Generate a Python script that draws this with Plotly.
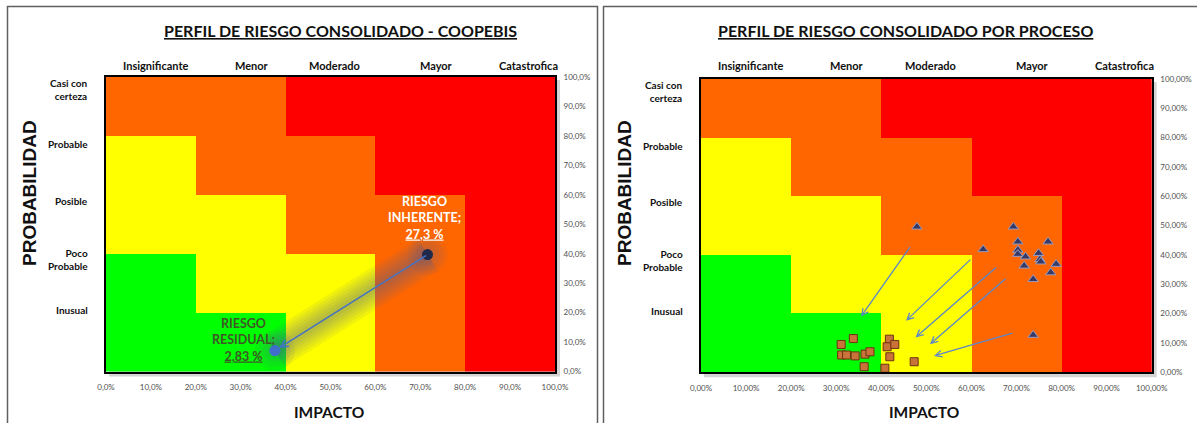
import plotly.graph_objects as go

# ---------------- data ----------------
IMPACT_LEVELS = ["Insignificante", "Menor", "Moderado", "Mayor", "Catastrofica"]
PROB_LEVELS = ["Casi con<br>certeza", "Probable", "Posible", "Poco<br>Probable", "Inusual"]
CELL_CENTERS = [10, 30, 50, 70, 90]
# risk zone per cell (rows bottom->top): 1 low, 2 moderate, 3 high, 4 extreme
RISK_ZONES = [
    [1, 1, 2, 3, 4],
    [1, 2, 2, 3, 4],
    [2, 2, 3, 3, 4],
    [2, 3, 3, 4, 4],
    [3, 3, 4, 4, 4],
]
TICK_VALUES = [0, 10, 20, 30, 40, 50, 60, 70, 80, 90, 100]
TICK_LABELS_1 = ["0,0%", "10,0%", "20,0%", "30,0%", "40,0%", "50,0%",
                 "60,0%", "70,0%", "80,0%", "90,0%", "100,0%"]
TICK_LABELS_2 = ["0,00%", "10,00%", "20,00%", "30,00%", "40,00%", "50,00%",
                 "60,00%", "70,00%", "80,00%", "90,00%", "100,00%"]

TITLE_1 = "PERFIL DE RIESGO CONSOLIDADO - COOPEBIS"
TITLE_2 = "PERFIL DE RIESGO CONSOLIDADO POR PROCESO"
X_TITLE = "IMPACTO"
Y_TITLE = "PROBABILIDAD"

# consolidated (left)
INH_IMPACT, INH_PROB, INH_VALUE = 71.6, 39.7, "27,3 %"
RES_IMPACT, RES_PROB, RES_VALUE = 37.6, 7.1, "2,83 %"

# by process (right): inherent risk (triangles)
PROC_INH_IMPACT = [47.9, 69.3, 62.6, 70.3, 70.3, 70.3, 72.0, 71.7, 77.0, 74.9, 75.2, 75.4, 78.8, 77.6, 73.7, 73.7]
PROC_INH_PROB = [49.6, 49.6, 41.9, 44.5, 41.7, 40.3, 39.4, 36.3, 44.5, 40.6, 38.5, 37.7, 36.9, 34.0, 31.7, 12.7]
# residual risk (squares)
PROC_RES_IMPACT = [31.1, 33.8, 31.2, 32.3, 34.2, 36.4, 37.5, 36.2, 41.8, 41.3, 43.0, 41.9, 40.8, 47.3]
PROC_RES_PROB = [9.5, 11.5, 5.9, 5.9, 5.6, 6.2, 7.0, 1.9, 11.3, 8.7, 9.5, 5.3, 1.4, 3.6]
# movement arrows
ARROW_FROM_IMPACT = [46.6, 60.1, 65.8, 67.9, 69.4]
ARROW_FROM_PROB = [43.2, 38.9, 36.2, 32.3, 13.5]
ARROW_TO_IMPACT = [35.5, 45.5, 47.6, 50.8, 51.7]
ARROW_TO_PROB = [19.0, 17.6, 11.9, 9.6, 5.6]

# ---------------- layout helpers ----------------
W, H = 1197, 423
LATO = "Lato, Open Sans, sans-serif"
ARIAL = "Liberation Sans, Arial, sans-serif"


def fx(px):
    return px / W


def fy(py):
    return 1 - py / H


LEFT_BOX = (106, 77, 555, 371.5)
RIGHT_BOX = (701, 79, 1151.7, 372.3)
COL_LABEL_X = [11, 32.5, 51, 73.5, 94]
ROW_LABEL_Y = [95.9, 77.2, 57.9, 38.0, 20.9]

COLORSCALE = [[0, "#00FF00"], [0.25, "#00FF00"], [0.25, "#FFFF00"], [0.5, "#FFFF00"],
              [0.5, "#FF6600"], [0.75, "#FF6600"], [0.75, "#FF0000"], [1, "#FF0000"]]

fig = go.Figure()

for xa, ya in [("x", "y"), ("x2", "y2")]:
    fig.add_trace(go.Heatmap(x=CELL_CENTERS, y=CELL_CENTERS, z=RISK_ZONES,
                             colorscale=COLORSCALE, zmin=0.5, zmax=4.5,
                             showscale=False, hoverinfo="skip",
                             xaxis=xa, yaxis=ya))

# soft glow along the movement (left)
for w in [38, 32, 26, 20, 14, 8]:
    fig.add_trace(go.Scatter(x=[INH_IMPACT, RES_IMPACT], y=[INH_PROB, RES_PROB],
                             mode="lines", line=dict(color="rgba(80,88,150,0.08)", width=w),
                             hoverinfo="skip", showlegend=False, xaxis="x", yaxis="y"))
for s in [40, 32, 24, 16]:
    fig.add_trace(go.Scatter(x=[INH_IMPACT, RES_IMPACT], y=[INH_PROB, RES_PROB],
                             mode="markers", marker=dict(color="rgba(80,88,150,0.08)", size=s),
                             hoverinfo="skip", showlegend=False, xaxis="x", yaxis="y"))

fig.add_trace(go.Scatter(x=[INH_IMPACT], y=[INH_PROB], mode="markers",
                         marker=dict(color="#1F2A4A", size=11), showlegend=False,
                         xaxis="x", yaxis="y"))
fig.add_trace(go.Scatter(x=[RES_IMPACT], y=[RES_PROB], mode="markers",
                         marker=dict(color="#3F6FCB", size=11), showlegend=False,
                         xaxis="x", yaxis="y"))

# right: process points
fig.add_trace(go.Scatter(x=PROC_INH_IMPACT, y=PROC_INH_PROB, mode="markers",
                         marker=dict(symbol="triangle-up", color="#363A66", size=9,
                                     line=dict(color="#9A9CC0", width=1)),
                         showlegend=False, xaxis="x2", yaxis="y2"))
fig.add_trace(go.Scatter(x=PROC_RES_IMPACT, y=PROC_RES_PROB, mode="markers",
                         marker=dict(symbol="square", color="#C9733A", size=8,
                                     line=dict(color="#6B3410", width=1)),
                         showlegend=False, xaxis="x2", yaxis="y2"))


def axis_x(box, ticktext, anchor):
    return dict(domain=[fx(box[0]), fx(box[2])], range=[0, 100], anchor=anchor,
                tickvals=TICK_VALUES, ticktext=ticktext, automargin=False,
                ticklabelstandoff=7,
                tickfont=dict(family=LATO, size=8, color="#505050"),
                showgrid=False, zeroline=False, showline=True, mirror=True,
                linecolor="black", linewidth=2, ticks="", fixedrange=True)


def axis_y(box, ticktext, anchor):
    return dict(domain=[fy(box[3]), fy(box[1])], range=[0, 100], anchor=anchor,
                side="right", tickvals=TICK_VALUES, ticktext=ticktext, automargin=False,
                ticklabelstandoff=5,
                tickfont=dict(family=LATO, size=8, color="#505050"),
                showgrid=False, zeroline=False, showline=True, mirror=True,
                linecolor="black", linewidth=2, ticks="", fixedrange=True)


annotations = []
shapes = []

panels = [
    (LEFT_BOX, "x", "y", TITLE_1, 340),
    (RIGHT_BOX, "x2", "y2", TITLE_2, 905),
]
for box, xa, ya, title, tcx in panels:
    annotations.append(dict(text="<b><u>" + title + "</u></b>", x=fx(tcx), y=fy(31),
                            xref="paper", yref="paper", xanchor="center", yanchor="middle",
                            showarrow=False,
                            font=dict(family=LATO, size=16, color="#111111")))
    for lab, cx in zip(IMPACT_LEVELS, COL_LABEL_X):
        annotations.append(dict(text="<b>" + lab + "</b>", x=cx, y=fy(65), xref=xa, yref="paper",
                                xanchor="center", yanchor="middle",
                                showarrow=False, font=dict(family=LATO, size=11, color="#111111")))
    for lab, cy in zip(PROB_LEVELS, ROW_LABEL_Y):
        annotations.append(dict(text="<b>" + lab + "</b>", x=fx(box[0] - 16), y=cy,
                                xref="paper", yref=ya, xanchor="right", yanchor="middle",
                                align="right",
                                showarrow=False, font=dict(family=LATO, size=10, color="#111111")))
    cx = (box[0] + box[2]) / 2
    annotations.append(dict(text="<b>" + X_TITLE + "</b>", x=fx(cx - 2), y=fy(411.5),
                            xref="paper", yref="paper", xanchor="center", yanchor="middle",
                            showarrow=False,
                            font=dict(family=LATO, size=15.5, color="#111111")))
    annotations.append(dict(text="<b>" + Y_TITLE + "</b>", x=fx(box[0] - 77), y=fy(193),
                            xref="paper", yref="paper", xanchor="center", yanchor="middle",
                            showarrow=False, textangle=-90,
                            font=dict(family=ARIAL, size=19, color="#111111")))
    # drop shadow behind plot area
    shapes.append(dict(type="rect", xref="paper", yref="paper", layer="below",
                       x0=fx(box[0] + 3), x1=fx(box[2] + 5), y0=fy(box[3] + 5), y1=fy(box[1] + 3),
                       fillcolor="#d4d4d4", line=dict(width=0)))

# panel frames
shapes.append(dict(type="rect", xref="paper", yref="paper", x0=fx(7.5), x1=fx(597.5),
                   y0=fy(432), y1=fy(6.5), line=dict(color="#606060", width=1.5)))
shapes.append(dict(type="rect", xref="paper", yref="paper", x0=fx(603.5), x1=fx(1205),
                   y0=fy(432), y1=fy(6.5), line=dict(color="#606060", width=1.5)))

# left labels and movement arrow
annotations.append(dict(text="<b>RIESGO<br>INHERENTE;<br><u>" + INH_VALUE + "</u></b>",
                        x=71.0, y=52.2, xref="x", yref="y", showarrow=False,
                        xanchor="center", yanchor="middle",
                        font=dict(family=LATO, size=12.5, color="white")))
annotations.append(dict(text="<b>RIESGO<br>RESIDUAL;<br><u>" + RES_VALUE + "</u></b>",
                        x=30.7, y=10.7, xref="x", yref="y", showarrow=False,
                        xanchor="center", yanchor="middle",
                        font=dict(family=LATO, size=12.5, color="#3F5727")))
annotations.append(dict(x=RES_IMPACT, y=RES_PROB, ax=INH_IMPACT, ay=INH_PROB,
                        xref="x", yref="y", axref="x", ayref="y", text="",
                        showarrow=True, arrowhead=5, arrowsize=1, arrowwidth=1.5,
                        arrowcolor="#4472C4", standoff=5))

for x0, y0, x1, y1 in zip(ARROW_FROM_IMPACT, ARROW_FROM_PROB, ARROW_TO_IMPACT, ARROW_TO_PROB):
    annotations.append(dict(x=x1, y=y1, ax=x0, ay=y0, xref="x2", yref="y2",
                            axref="x2", ayref="y2", text="", showarrow=True,
                            arrowhead=5, arrowsize=1, arrowwidth=1.3,
                            arrowcolor="#5B86C8", standoff=0))

fig.update_layout(
    template="none",
    width=W, height=H, autosize=False,
    margin=dict(l=0, r=0, t=0, b=0, pad=0),
    paper_bgcolor="white", plot_bgcolor="white",
    showlegend=False,
    xaxis=axis_x(LEFT_BOX, TICK_LABELS_1, "y"),
    yaxis=axis_y(LEFT_BOX, TICK_LABELS_1, "x"),
    xaxis2=axis_x(RIGHT_BOX, TICK_LABELS_2, "y2"),
    yaxis2=axis_y(RIGHT_BOX, TICK_LABELS_2, "x2"),
    annotations=annotations,
    shapes=shapes,
)

fig.write_html("out.html", config={"displayModeBar": False},
               post_script="document.body.style.margin='0';")
